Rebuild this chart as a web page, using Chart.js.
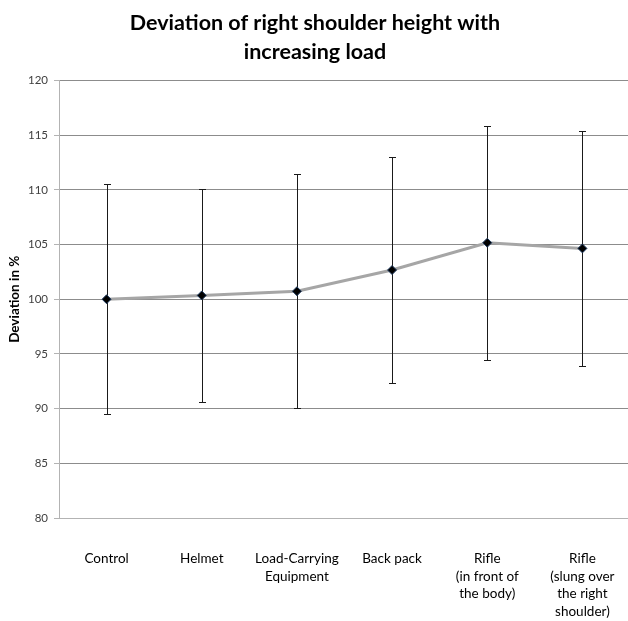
<!DOCTYPE html>
<html>
<head>
<meta charset="utf-8">
<script src="https://cdn.jsdelivr.net/npm/chart.js@4/dist/chart.umd.min.js"></script>
<style>
  html, body { margin: 0; padding: 0; background: #fff; overflow: hidden; }
  #wrap { width: 628px; height: 621px; overflow: hidden; }
  canvas { display: block; }
</style>
</head>
<body>
<div id="wrap"><canvas id="c" width="630" height="621"></canvas></div>
<script>
// Load conditions (x-axis categories)
const categories = [
  'Control',
  'Helmet',
  ['Load-Carrying', 'Equipment'],
  'Back pack',
  ['Rifle', '(in front of', 'the body)'],
  ['Rifle', '(slung over', 'the right', 'shoulder)']
];
// Mean deviation of right shoulder height (%)
const meanDeviation = [100.0, 100.35, 100.73, 102.67, 105.17, 104.65];
// Standard deviation shown as error bars (±)
const stdDeviation = [10.5, 9.75, 10.7, 10.3, 10.7, 10.75];
// Y-axis range and step
const yMin = 80, yMax = 120, yStep = 5;

const FONT = 'Lato, "Open Sans", sans-serif';

// Draws vertical error bars with caps behind the line
const errorBars = {
  id: 'errorBars',
  beforeDatasetsDraw(chart) {
    const { ctx, scales: { x, y } } = chart;
    ctx.save();
    ctx.strokeStyle = '#1a1a1a';
    ctx.lineWidth = 1;
    meanDeviation.forEach((m, i) => {
      const px = Math.round(x.getPixelForValue(i)) + 0.5;
      const top = Math.round(y.getPixelForValue(m + stdDeviation[i])) + 0.5;
      const bot = Math.round(y.getPixelForValue(m - stdDeviation[i])) + 0.5;
      ctx.beginPath();
      ctx.moveTo(px, top); ctx.lineTo(px, bot);
      ctx.moveTo(px - 3.5, top); ctx.lineTo(px + 3.5, top);
      ctx.moveTo(px - 3.5, bot); ctx.lineTo(px + 3.5, bot);
      ctx.stroke();
    });
    ctx.restore();
  }
};

new Chart(document.getElementById('c'), {
  type: 'line',
  data: {
    labels: categories,
    datasets: [{
      data: meanDeviation,
      borderColor: '#a6a6a6',
      borderWidth: 3,
      tension: 0,
      pointStyle: 'rectRot',
      pointRadius: 4.5,
      pointBackgroundColor: '#000',
      pointBorderColor: '#1f3b60',
      pointBorderWidth: 1
    }]
  },
  options: {
    responsive: false,
    animation: false,
    devicePixelRatio: 1,
    layout: { autoPadding: false, padding: { left: 0, right: 0, top: 0, bottom: 0 } },
    plugins: {
      legend: { display: false },
      tooltip: { enabled: false },
      title: {
        display: true,
        text: ['Deviation of right shoulder height with', 'increasing load'],
        color: '#000',
        font: { family: FONT, size: 21.5, weight: 'bold', lineHeight: 1.36 },
        padding: { top: 8, bottom: 14 }
      }
    },
    scales: {
      x: {
        type: 'category',
        offset: true,
        grid: { display: false, drawTicks: false },
        border: { display: true, color: '#b3b3b3', width: 1 },
        ticks: {
          autoSkip: false,
          maxRotation: 0,
          minRotation: 0,
          padding: 32,
          color: '#000',
          font: { family: FONT, size: 13.5, lineHeight: 1.3 }
        },
        afterFit(scale) {
          scale.height = 103;
          scale.paddingLeft = 0;
          scale.paddingRight = 0;
        }
      },
      y: {
        min: yMin,
        max: yMax,
        ticks: {
          stepSize: yStep,
          padding: 6,
          color: '#404040',
          font: { family: FONT, size: 11.5 }
        },
        grid: {
          color: '#8c8c8c',
          lineWidth: 1,
          tickLength: 5,
          tickColor: '#b3b3b3'
        },
        border: { display: true, color: '#b3b3b3', width: 1 },
        title: {
          display: true,
          text: 'Deviation in %',
          color: '#000',
          font: { family: FONT, size: 13.5, weight: 'bold' },
          padding: { top: 7, bottom: 0 }
        },
        afterFit(scale) { scale.width = 59; }
      }
    }
  },
  plugins: [errorBars]
});
</script>
</body>
</html>
